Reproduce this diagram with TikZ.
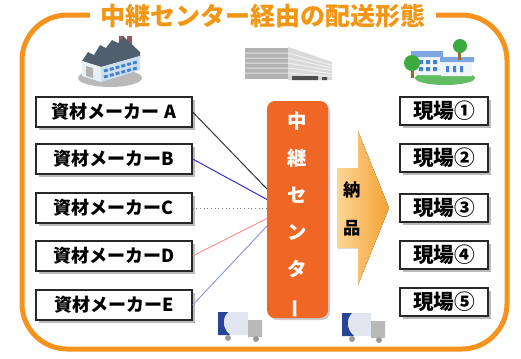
\documentclass[tikz,border=0pt]{standalone}
\usepackage{fontspec}
\usepackage{graphicx}
\newfontfamily\jpfont{Noto Sans CJK JP}
\usetikzlibrary{shadows}

\tikzset{every picture/.style={line width=0.75pt}}
\definecolor{frameorange}{RGB}{246,146,30}
\definecolor{hubred}{RGB}{240,102,36}
\definecolor{arrowpale}{RGB}{251,214,150}
\definecolor{arrowdeep}{RGB}{246,160,50}
\definecolor{roofgray}{RGB}{80,95,110}
\definecolor{winblue}{RGB}{70,130,210}
\definecolor{leafgreen}{RGB}{60,170,60}
\definecolor{truckblue}{RGB}{40,70,150}

\tikzset{
  maker/.style={draw={rgb,255:red,40;green,40;blue,40}, line width=1pt, fill=white, inner sep=0pt,
    minimum width=117pt, minimum height=22.5pt,
    font=\jpfont\bfseries\fontsize{13.5}{14}\selectfont,
    drop shadow={shadow xshift=2pt, shadow yshift=-2pt, fill=black!45, opacity=0.6}},
  site/.style={maker, minimum width=66pt, minimum height=21pt,
    font=\jpfont\bfseries\fontsize{15.5}{16}\selectfont},
}

\begin{document}
\begin{tikzpicture}[x=0.75pt,y=0.75pt,yscale=-1,xscale=1]
\useasboundingbox (0,0) rectangle (521,358);

%Shape: Rounded Rectangle
\draw [color=frameorange, line width=3.75pt, rounded corners=34pt] (22,15) rectangle (507,349);
% Text Node
\node (title) [fill=white, inner xsep=8pt, inner ysep=1pt, text={rgb,255:red,243;green,150;blue,20},
  font=\jpfont\bfseries\fontsize{18.75}{19}\selectfont] at (263,16) {中継センター経由の配送形態};

%Shape: Factory
\fill [color=gray!55] (110,78) ellipse (32 and 9);
\fill [color={rgb,255:red,150;green,90;blue,100}] (119,36) rectangle (124,50) (127,36) rectangle (132,50);
\fill [color=roofgray] (82,61) -- (88,52) -- (94,55) -- (100,45) -- (106,48) -- (112,40) -- (118,43) -- (124,37) -- (140,52) -- (140,56) -- (101,67) -- cycle;
\fill [color={rgb,255:red,232;green,240;blue,248}] (82,61) -- (101,67) -- (101,82) -- (82,76) -- cycle;
\fill [color={rgb,255:red,205;green,222;blue,240}] (101,67) -- (140,56) -- (140,70) -- (101,82) -- cycle;
\draw [color=winblue, line width=2.2pt, dash pattern=on 3pt off 1.5pt] (104,71) -- (137,62) (104,77) -- (137,68);
\fill [color=gray!60] (86,66) -- (93,68) -- (93,78) -- (86,76) -- cycle;

%Shape: Warehouse
\fill [color=gray!60] (245,48) rectangle (288,79);
\fill [color=gray!30] (288,47) -- (332,62) -- (332,80) -- (288,80) -- cycle;
\foreach \yy in {53,58,63,68,73}
  \draw [color=white, opacity=0.6] (245,\yy) -- (288,\yy) (288,\yy) -- (332,{62+(\yy-47)*0.55});
\fill [color=black!70] (292,76) rectangle (318,80) (322,77) rectangle (327,80);

%Shape: Site
\fill [color=leafgreen!80] (445,78) ellipse (30 and 7);
\fill [color={rgb,255:red,240;green,245;blue,250}] (414,57) rectangle (441,75) (441,62) rectangle (472,76);
\fill [color=winblue!70] (411,51) rectangle (443,57) (440,57) rectangle (474,62);
\fill [color=winblue] (419,60) rectangle (423,64) (426,60) rectangle (430,64) (433,60) rectangle (437,64)
  (419,67) rectangle (423,71) (426,67) rectangle (430,71) (433,67) rectangle (437,71)
  (446,66) rectangle (449,72) (453,66) rectangle (456,72) (460,66) rectangle (463,72);
\fill [color={rgb,255:red,150;green,110;blue,50}] (411,66) rectangle (414,78) (458,50) rectangle (461,60);
\fill [color=leafgreen] (412,63) circle (8) (460,46) circle (7);

%Shape: Trucks
\fill [color={rgb,255:red,225;green,230;blue,240}] (218,312) rectangle (248,335) (342,313) rectangle (371,336);
\fill [color=truckblue] (218,312) -- (228,312) .. controls (222,318) and (222,328) .. (230,335) -- (218,335) -- cycle;
\fill [color=truckblue] (342,313) -- (352,313) .. controls (346,319) and (346,329) .. (354,336) -- (342,336) -- cycle;
\fill [color=gray!55] (248,320) rectangle (262,337) (371,321) rectangle (385,338);
\fill [color=gray!80] (228,338) circle (3) (256,339) circle (3) (352,339) circle (3) (379,340) circle (3);

%Straight Lines
\coordinate (inA) at (268,190);
\coordinate (inB) at (268,200);
\coordinate (inC) at (268,208);
\coordinate (inD) at (268,218);
\coordinate (inE) at (268,225);

% Text Node
\node (mA) [maker] at (114,112) {資材メーカー A};
\node (mB) [maker] at (114,159) {資材メーカーB};
\node (mC) [maker] at (114,208) {資材メーカーC};
\node (mD) [maker] at (114,256) {資材メーカーD};
\node (mE) [maker] at (114,305) {資材メーカーE};

\draw [color=black!80] (mA.east) -- (inA);
\draw [color={rgb,255:red,50;green,50;blue,200}] (mB.east) -- (inB);
\draw [color=gray, dotted] (mC.east) -- (inC);
\draw [color={rgb,255:red,240;green,150;blue,150}] (mD.east) -- (inD);
\draw [color={rgb,255:red,150;green,150;blue,230}] (mE.east) -- (inE);

%Shape: Rounded Rectangle
\node (hub) [fill=hubred, rounded corners=6pt, inner sep=0pt, minimum width=45.75pt, minimum height=162.75pt,
  drop shadow={shadow xshift=1.5pt, shadow yshift=-1.5pt, fill=black!40, opacity=0.5}] at (297.5,209.5) {};
\node (hubtext) [text=white, align=center, font=\jpfont\bfseries\fontsize{14.5}{27.75}\selectfont]
  at (297.5,215) {中\\継\\セ\\ン\\タ\\\rotatebox[origin=c]{90}{ー}};

%Shape: Arrow
\fill [left color=arrowpale, right color=arrowdeep] (337,168) -- (358,168) -- (358,131) -- (389,208) -- (358,285) -- (358,248) -- (337,248) -- cycle;
\node (nohin) [align=center, font=\jpfont\bfseries\fontsize{13}{28.5}\selectfont] at (352,209) {納\\品};

% Text Node
\node (s1) [site] at (444,111) {現場①};
\node (s2) [site] at (444,158) {現場②};
\node (s3) [site] at (444,208) {現場③};
\node (s4) [site] at (444,255) {現場④};
\node (s5) [site] at (444,302) {現場⑤};

\end{tikzpicture}
\end{document}
